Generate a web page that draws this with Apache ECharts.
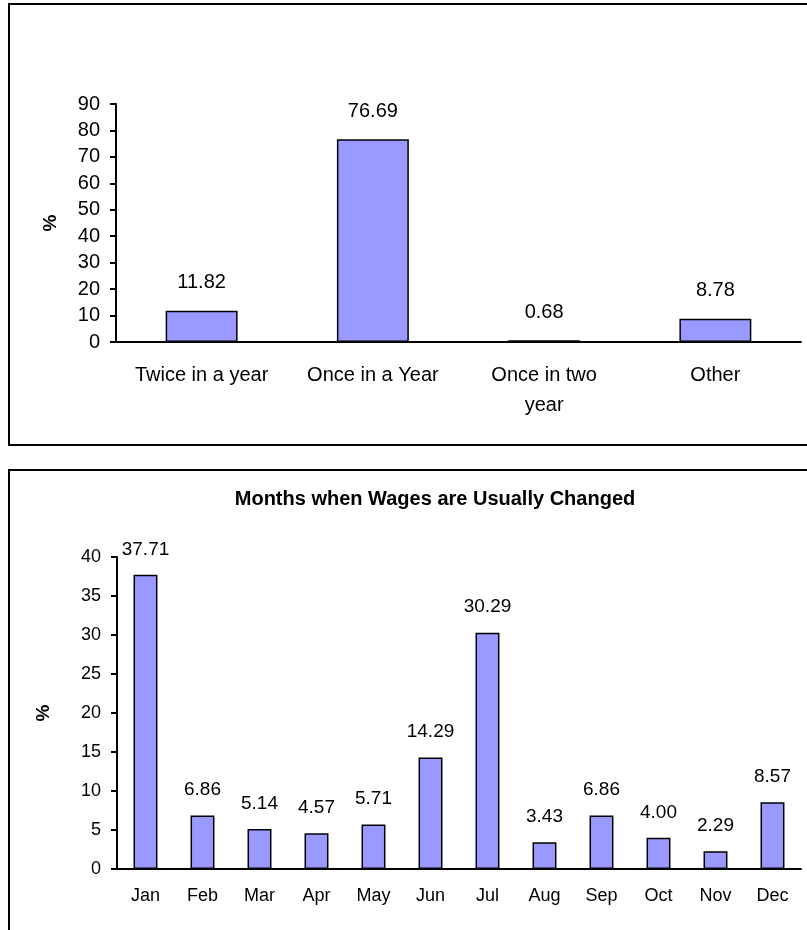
<!DOCTYPE html>
<html lang="en">
<head>
    <meta charset="UTF-8">
    <title>Wage change frequency</title>
    <script type="text/javascript" src="https://cdn.jsdelivr.net/npm/echarts@6/dist/echarts.min.js"></script>
    <style>
        body { margin: 0; background: #fff; }
    </style>
</head>
<body>
<div id="chart" style="width: 807px;height:930px;"></div>
<script>

    // top chart: how often wages change
    var freqCategories = ['Twice in a year', 'Once in a Year', 'Once in two\nyear', 'Other'];
    var freqValues = [11.82, 76.69, 0.68, 8.78];

    // bottom chart: months when wages change
    var monthCategories = ['Jan', 'Feb', 'Mar', 'Apr', 'May', 'Jun', 'Jul', 'Aug', 'Sep', 'Oct', 'Nov', 'Dec'];
    var monthValues = [37.71, 6.86, 5.14, 4.57, 5.71, 14.29, 30.29, 3.43, 6.86, 4.00, 2.29, 8.57];

    var font = 'Arial, "Liberation Sans", sans-serif';

    function fmt(p) {
        return p.value.toFixed(2);
    }

    option = {
        animation: false,
        textStyle: { fontFamily: font, color: '#000' },
        title: {
            text: 'Months when Wages are Usually Changed',
            left: 430,
            top: 484,
            textAlign: 'center',
            textStyle: { fontFamily: font, fontSize: 20, fontWeight: 'bold', color: '#000' }
        },
        graphic: [
            {
                type: 'rect',
                shape: { x: 9, y: 4, width: 820, height: 441 },
                style: { fill: 'none', stroke: '#000', lineWidth: 2 }
            },
            {
                type: 'rect',
                shape: { x: 9, y: 470, width: 820, height: 500 },
                style: { fill: 'none', stroke: '#000', lineWidth: 2 }
            }
        ],
        grid: [
            { left: 116, right: 6, top: 104, bottom: 588 },
            { left: 117, right: 6, top: 557, bottom: 61 }
        ],
        xAxis: [
            {
                type: 'category',
                gridIndex: 0,
                data: freqCategories,
                axisLine: { lineStyle: { color: '#000', width: 2 } },
                axisTick: { length: 6, lineStyle: { color: '#000', width: 2 } },
                axisLabel: { interval: 0, hideOverlap: false, color: '#000', fontSize: 20, margin: 18, lineHeight: 30, fontFamily: font }
            },
            {
                type: 'category',
                gridIndex: 1,
                data: monthCategories,
                axisLine: { lineStyle: { color: '#000', width: 2 } },
                axisTick: { length: 6, lineStyle: { color: '#000', width: 2 } },
                axisLabel: { interval: 0, color: '#000', fontSize: 18, margin: 18, fontFamily: font }
            }
        ],
        yAxis: [
            {
                type: 'value',
                gridIndex: 0,
                min: 0,
                max: 90,
                interval: 10,
                name: '%',
                nameLocation: 'middle',
                nameRotate: 90,
                nameGap: 56,
                nameTextStyle: { fontSize: 19, fontWeight: 'bold', color: '#000', fontFamily: font },
                axisLine: { show: true, lineStyle: { color: '#000', width: 2 } },
                axisTick: { show: true, length: 6, lineStyle: { color: '#000', width: 2 } },
                axisLabel: { color: '#000', fontSize: 20, margin: 16, fontFamily: font },
                splitLine: { show: false }
            },
            {
                type: 'value',
                gridIndex: 1,
                min: 0,
                max: 40,
                interval: 5,
                name: '%',
                nameLocation: 'middle',
                nameRotate: 90,
                nameGap: 64,
                nameTextStyle: { fontSize: 19, fontWeight: 'bold', color: '#000', fontFamily: font },
                axisLine: { show: true, lineStyle: { color: '#000', width: 2 } },
                axisTick: { show: true, length: 6, lineStyle: { color: '#000', width: 2 } },
                axisLabel: { color: '#000', fontSize: 18, margin: 16, fontFamily: font },
                splitLine: { show: false }
            }
        ],
        series: [
            {
                name: 'frequency',
                type: 'bar',
                xAxisIndex: 0,
                yAxisIndex: 0,
                data: freqValues,
                barCategoryGap: '58%',
                itemStyle: { color: '#9999FF', borderColor: '#000', borderWidth: 1.5 },
                label: {
                    show: true,
                    position: 'top',
                    distance: 18,
                    formatter: fmt,
                    color: '#000',
                    fontSize: 20,
                    fontFamily: font
                }
            },
            {
                name: 'months',
                type: 'bar',
                xAxisIndex: 1,
                yAxisIndex: 1,
                data: monthValues,
                barCategoryGap: '58%',
                itemStyle: { color: '#9999FF', borderColor: '#000', borderWidth: 1.5 },
                label: {
                    show: true,
                    position: 'top',
                    distance: 16,
                    formatter: fmt,
                    color: '#000',
                    fontSize: 19,
                    fontFamily: font
                }
            }
        ]
    };
    var myChart = echarts.init(document.getElementById('chart'));
    myChart.setOption(option);

</script>
</body>
</html>
